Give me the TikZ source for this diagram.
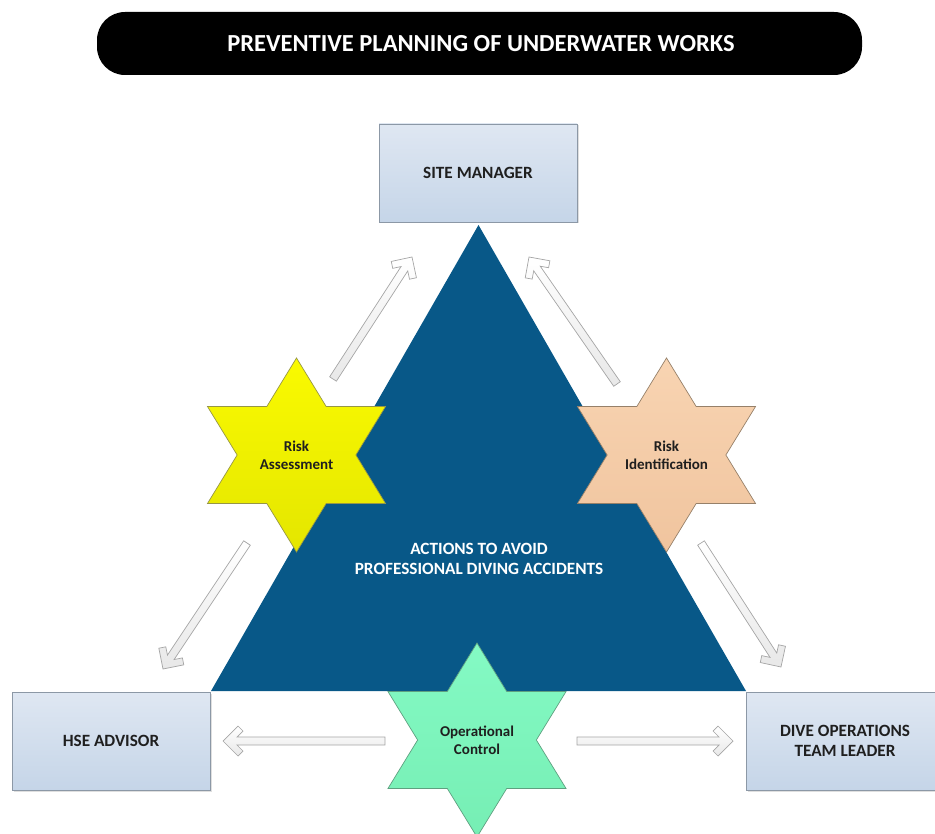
\documentclass[tikz,border=0pt]{standalone}
\usepackage{fontspec}
\setmainfont{Carlito}
\usetikzlibrary{calc,shadows}
\definecolor{tricol}{RGB}{8,88,136}
\definecolor{boxtop}{RGB}{223,231,242}
\definecolor{boxbot}{RGB}{197,213,232}
\definecolor{boxedge}{RGB}{140,152,166}
\definecolor{ylwtop}{RGB}{250,250,0}
\definecolor{ylwbot}{RGB}{228,230,0}
\definecolor{ylwedge}{RGB}{150,150,70}
\definecolor{pchtop}{RGB}{248,212,178}
\definecolor{pchbot}{RGB}{240,196,158}
\definecolor{pchedge}{RGB}{150,128,105}
\definecolor{grntop}{RGB}{132,250,196}
\definecolor{grnbot}{RGB}{118,238,180}
\definecolor{grnedge}{RGB}{95,160,128}
\definecolor{arredge}{RGB}{165,165,165}
\definecolor{arrfill}{RGB}{232,232,232}
\newcommand\hexstar[2]{\path[#2, shift={(#1)}, xscale=1.06]
  (90:97pt) -- (120:56pt) -- (150:97pt) -- (180:56pt) -- (210:97pt) -- (240:56pt) --
  (270:97pt) -- (300:56pt) -- (330:97pt) -- (0:56pt) -- (30:97pt) -- (60:56pt) -- cycle;}
\newcommand\blockarrow[2]{\path[blockarr] let \p1=($(#2)-(#1)$), \n1={atan2(\y1,\x1)}, \n2={veclen(\x1,\y1)} in
  [shift={(#1)}, rotate=\n1]
  (0pt,-4pt) -- (\n2-14pt,-4pt) -- (\n2-20pt,-10pt) -- (\n2-15pt,-15pt) -- (\n2,0pt) --
  (\n2-15pt,15pt) -- (\n2-20pt,10pt) -- (\n2-14pt,4pt) -- (0pt,4pt) -- cycle;}
\tikzset{
  boxnode/.style={draw=boxedge, line width=0.8pt, top color=boxtop, bottom color=boxbot,
    minimum width=198pt, minimum height=98pt, inner sep=0pt, align=center,
    font=\bfseries\fontsize{17.2}{19.5}\selectfont, text=black!88,
    drop shadow={shadow xshift=1.5pt, shadow yshift=-1.5pt, opacity=0.25}},
  starlabel/.style={align=center, font=\bfseries\fontsize{15}{18}\selectfont, text=black!88},
  blockarr/.style={draw=arredge, line width=0.7pt, top color=white, bottom color=arrfill},
  ystar/.style={draw=ylwedge, line width=0.7pt, top color=ylwtop, bottom color=ylwbot},
  pstar/.style={draw=pchedge, line width=0.7pt, top color=pchtop, bottom color=pchbot},
  gstar/.style={draw=grnedge, line width=0.7pt, top color=grntop, bottom color=grnbot},
  titlebar/.style={fill=black, rounded corners=28pt},
}
\begin{document}
\begin{tikzpicture}[x=1pt,y=-1pt]
\useasboundingbox (0,0) rectangle (935,834);
\clip (0,0) rectangle (935,834);
% title
\fill[titlebar] (97,12) rectangle (862,75);
\node[text=white, font=\bfseries\fontsize{24.5}{29}\selectfont] (title) at (481,44) {PREVENTIVE PLANNING OF UNDERWATER WORKS};
% boxes
\node[boxnode] (site) at (478,173) {SITE MANAGER};
\node[boxnode] (hse) at (111,741) {HSE ADVISOR};
\node[boxnode] (dive) at (845,741) {DIVE OPERATIONS\\TEAM LEADER};
% triangle
\coordinate (apex) at (478.5,225);
\coordinate (bl) at (211,691);
\coordinate (br) at (746,691);
\fill[tricol] (apex) -- (bl) -- (br) -- cycle;
\node[text=white, align=center, font=\bfseries\fontsize{17.2}{19.5}\selectfont] (act) at (479,559) {ACTIONS TO AVOID\\PROFESSIONAL DIVING ACCIDENTS};
% arrows
\coordinate (a1s) at (333,379); \coordinate (a1e) at (412,257);
\coordinate (a2s) at (617,384); \coordinate (a2e) at (529,257);
\coordinate (a3s) at (247,543); \coordinate (a3e) at (163,669);
\coordinate (a4s) at (701,543); \coordinate (a4e) at (781,667);
\coordinate (a5s) at (385,741); \coordinate (a5e) at (223,741);
\coordinate (a6s) at (577,741); \coordinate (a6e) at (733,741);
\blockarrow{a1s}{a1e}
\blockarrow{a2s}{a2e}
\blockarrow{a3s}{a3e}
\blockarrow{a4s}{a4e}
\blockarrow{a5s}{a5e}
\blockarrow{a6s}{a6e}
% stars
\coordinate (c1) at (296.5,455);
\coordinate (c2) at (666.5,455);
\coordinate (c3) at (477,740);
\hexstar{c1}{ystar}
\hexstar{c2}{pstar}
\hexstar{c3}{gstar}
\node[starlabel] (ra) at (c1) {Risk\\Assessment};
\node[starlabel] (ri) at (c2) {Risk\\Identification};
\node[starlabel] (oc) at (c3) {Operational\\Control};
\end{tikzpicture}
\end{document}
